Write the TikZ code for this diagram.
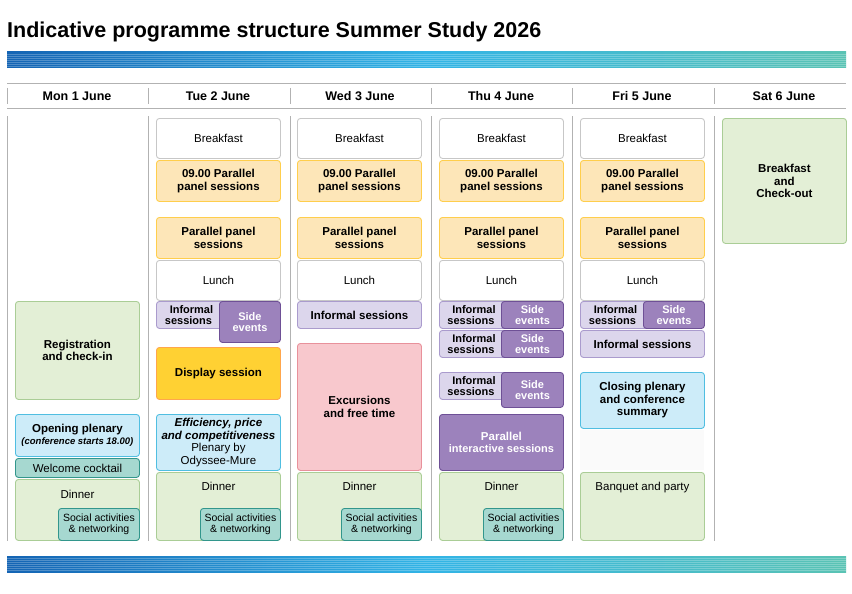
\documentclass[tikz,border=0pt]{standalone}
\usepackage{fontspec}
\setmainfont{Liberation Sans}
\begin{document}
\begin{tikzpicture}[x=1pt,y=-1pt,
  base/.style={rounded corners=3pt,line width=0.9pt,align=center,inner sep=1pt,font=\fontsize{11.5}{12.5}\selectfont},
  wht/.style={base,fill=white,draw=black!22},
  yel/.style={base,fill=yellow!30!orange!25,draw=orange!55!yellow!70,font=\fontsize{11.5}{12.5}\selectfont\bfseries},
  org/.style={base,fill=orange!45!yellow!80,draw=orange!70,font=\fontsize{11.5}{12.5}\selectfont\bfseries},
  lpur/.style={base,fill={rgb,255:red,220;green,214;blue,236},draw={rgb,255:red,170;green,155;blue,205},font=\fontsize{11}{11.5}\selectfont\bfseries},
  dpur/.style={base,fill={rgb,255:red,156;green,130;blue,188},draw={rgb,255:red,110;green,80;blue,150},text=white,font=\fontsize{11}{11.5}\selectfont\bfseries},
  blu/.style={base,fill={rgb,255:red,205;green,236;blue,249},draw={rgb,255:red,80;green,190;blue,225},font=\fontsize{11.5}{12.5}\selectfont\bfseries},
  grn/.style={base,fill={rgb,255:red,227;green,239;blue,214},draw={rgb,255:red,170;green,205;blue,150},font=\fontsize{11.5}{12.5}\selectfont\bfseries},
  pnk/.style={base,fill={rgb,255:red,248;green,200;blue,205},draw={rgb,255:red,232;green,145;blue,155},font=\fontsize{11.5}{12.5}\selectfont\bfseries},
  tea/.style={base,fill={rgb,255:red,166;green,216;blue,208},draw={rgb,255:red,50;green,150;blue,140},font=\fontsize{10.5}{11.5}\selectfont},
  hdr/.style={font=\fontsize{12.5}{13}\selectfont\bfseries},
  rule/.style={draw=black!30,line width=0.9pt}]
\newcommand\bx[7]{\node[#2,anchor=north west,minimum width={(#5-#3)*1pt},minimum height={(#6-#4)*1pt}] (#1) at (#3,#4) {#7};}
\useasboundingbox (0,0) rectangle (852,594);
% title
\node[anchor=west,font=\fontsize{21.5}{24}\selectfont\bfseries,inner sep=0] (title) at (7,32) {Indicative programme structure Summer Study 2026};
% bars
\foreach \yy in {52,556}{
  \shade[left color={rgb,255:red,20;green,100;blue,180},right color={rgb,255:red,90;green,195;blue,180},middle color={rgb,255:red,50;green,180;blue,230}] (7,\yy) rectangle (846,\yy+16);
  \foreach \k in {2,4,...,14}{\draw[white,opacity=0.25,line width=0.6pt] (7,\yy+\k) -- (846,\yy+\k);}
}
% header rules
\draw[rule] (7,83) -- (846,83);
\draw[rule] (7,108) -- (846,108);
\foreach \xx in {7,148,290,431,572,714}{
  \draw[rule] (\xx,88) -- (\xx,104);
  \draw[rule] (\xx,116) -- (\xx,541);
}
\node[hdr] (h1) at (77,96) {Mon 1 June};
\node[hdr] (h2) at (218,96) {Tue 2 June};
\node[hdr] (h3) at (360,96) {Wed 3 June};
\node[hdr] (h4) at (501,96) {Thu 4 June};
\node[hdr] (h5) at (642,96) {Fri 5 June};
\node[hdr] (h6) at (784,96) {Sat 6 June};
% Monday
\bx{mreg}{grn}{15}{301}{139}{399}{Registration\\and check-in}
\bx{mopen}{blu}{15}{414}{139}{456}{Opening plenary\\\fontsize{9.5}{11}\selectfont\itshape(conference starts 18.00)}
\bx{mwel}{tea}{15}{458}{139}{477}{\fontsize{11.5}{12}\selectfont Welcome cocktail}
\bx{mdin}{grn}{15}{479}{139}{540}{}
\node[font=\fontsize{11.5}{12}\selectfont,below] (mdint) at ([yshift=-8pt]mdin.north) {Dinner};
\bx{msoc}{tea}{58}{508}{139}{540}{Social activities\\\& networking}
% Tue Wed Thu Fri common
\foreach \c/\x in {t/156,w/297,h/439,f/580}{
  \bx{\c b}{wht}{\x}{118}{\x+124}{158}{Breakfast}
  \bx{\c p}{yel}{\x}{160}{\x+124}{201}{09.00 Parallel\\panel sessions}
  \bx{\c q}{yel}{\x}{217}{\x+124}{258}{Parallel panel\\sessions}
  \bx{\c l}{wht}{\x}{260}{\x+124}{300}{Lunch}
}
% Tue
\bx{ti}{lpur}{156}{301}{226}{328}{Informal\\sessions\hspace*{6pt}}
\bx{ts}{dpur}{219}{301}{280}{342}{Side\\events}
\bx{td}{org}{156}{347}{280}{399}{Display session}
\bx{te}{blu}{156}{414}{280}{470}{\itshape Efficiency, price\\\itshape and competitiveness\\\upshape\mdseries Plenary by\\\upshape\mdseries Odyssee-Mure}
\bx{tdin}{grn}{156}{472}{280}{540}{}
\node[font=\fontsize{11.5}{12}\selectfont,below] (tdint) at ([yshift=-7pt]tdin.north) {Dinner};
\bx{tsoc}{tea}{200}{508}{280}{540}{Social activities\\\& networking}
% Wed
\bx{wi}{lpur}{297}{301}{421}{328}{\fontsize{11.5}{12}\selectfont Informal sessions}
\bx{wx}{pnk}{297}{343}{421}{470}{Excursions\\and free time}
\bx{wdin}{grn}{297}{472}{421}{540}{}
\node[font=\fontsize{11.5}{12}\selectfont,below] (wdint) at ([yshift=-7pt]wdin.north) {Dinner};
\bx{wsoc}{tea}{341}{508}{421}{540}{Social activities\\\& networking}
% Thu
\bx{hi1}{lpur}{439}{301}{508}{328}{Informal\\sessions\hspace*{6pt}}
\bx{hs1}{dpur}{501}{301}{563}{328}{Side\\events}
\bx{hi2}{lpur}{439}{330}{508}{357}{Informal\\sessions\hspace*{6pt}}
\bx{hs2}{dpur}{501}{330}{563}{357}{Side\\events}
\bx{hi3}{lpur}{439}{372}{508}{399}{Informal\\sessions\hspace*{6pt}}
\bx{hs3}{dpur}{501}{372}{563}{407}{Side\\events}
\bx{hpi}{dpur}{439}{414}{563}{470}{\fontsize{11.5}{12.5}\selectfont\bfseries Parallel\\interactive sessions}
\bx{hdin}{grn}{439}{472}{563}{540}{}
\node[font=\fontsize{11.5}{12}\selectfont,below] (hdint) at ([yshift=-7pt]hdin.north) {Dinner};
\bx{hsoc}{tea}{483}{508}{563}{540}{Social activities\\\& networking}
% Fri
\bx{fi1}{lpur}{580}{301}{650}{328}{Informal\\sessions\hspace*{6pt}}
\bx{fs1}{dpur}{643}{301}{704}{328}{Side\\events}
\bx{fi2}{lpur}{580}{330}{704}{357}{\fontsize{11.5}{12}\selectfont Informal sessions}
\bx{fc}{blu}{580}{372}{704}{428}{Closing plenary\\and conference\\summary}
\fill[black!2] (580,430) rectangle (704,470);
\bx{fban}{grn}{580}{472}{704}{540}{}
\node[font=\fontsize{11.5}{12}\selectfont,below] (fbant) at ([yshift=-7pt]fban.north) {Banquet and party};
% Sat
\bx{sb}{grn}{722}{118}{846}{243}{Breakfast\\and\\Check-out}
\end{tikzpicture}
\end{document}
